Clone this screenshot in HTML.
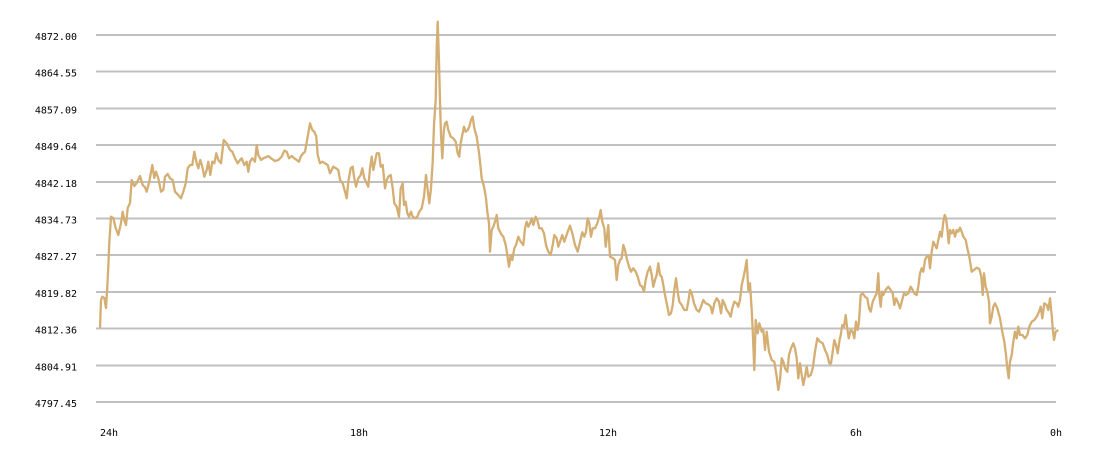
<!DOCTYPE html>
<html><head><meta charset="utf-8"><style>
html,body{margin:0;padding:0;background:#fff;}
svg{display:block;}
text{font-family:"DejaVu Sans Mono","Liberation Mono",monospace;font-size:10px;fill:#000;}
</style></head><body>
<svg width="1100" height="458" viewBox="0 0 1100 458" xmlns="http://www.w3.org/2000/svg">
<g stroke="#c0c0c0" stroke-width="2" shape-rendering="crispEdges">
<line x1="96" x2="1056" y1="35" y2="35"/>
<line x1="96" x2="1056" y1="71.7" y2="71.7"/>
<line x1="96" x2="1056" y1="108.4" y2="108.4"/>
<line x1="96" x2="1056" y1="145.1" y2="145.1"/>
<line x1="96" x2="1056" y1="181.8" y2="181.8"/>
<line x1="96" x2="1056" y1="218.5" y2="218.5"/>
<line x1="96" x2="1056" y1="255.2" y2="255.2"/>
<line x1="96" x2="1056" y1="291.9" y2="291.9"/>
<line x1="96" x2="1056" y1="328.6" y2="328.6"/>
<line x1="96" x2="1056" y1="365.3" y2="365.3"/>
<line x1="96" x2="1056" y1="402" y2="402"/>
</g>
<g text-anchor="end">
<text x="77" y="40">4872.00</text>
<text x="77" y="76.7">4864.55</text>
<text x="77" y="113.4">4857.09</text>
<text x="77" y="150.1">4849.64</text>
<text x="77" y="186.8">4842.18</text>
<text x="77" y="223.5">4834.73</text>
<text x="77" y="260.2">4827.27</text>
<text x="77" y="296.9">4819.82</text>
<text x="77" y="333.6">4812.36</text>
<text x="77" y="370.3">4804.91</text>
<text x="77" y="407">4797.45</text>
</g>
<text x="100" y="436">24h</text>
<text x="350" y="436">18h</text>
<text x="599" y="436">12h</text>
<text x="850" y="436">6h</text>
<text x="1050" y="436">0h</text>
<polyline fill="none" stroke="#d4ae72" stroke-width="2.3" stroke-linejoin="round" points="
100,328 101,300 102.3,296.7 104.3,298 106,308 107.3,286.7 108.3,266.7 109.3,243 111,216.7 113.3,218 115.7,228 118.3,235 121,223 122.7,211.7 124.3,220 126,225 127.7,208 130,203 131.7,180 134.3,186 136.7,183 140,176 142.7,185 145,187.3 146.7,191.7 149.3,181.7 152.3,165 154.3,178 156,171.7 158.3,178.3 161,191.7 163.3,190 165,176.7 167.7,174 170,178.3 172.7,180 175,191.7 178.3,195 181,198.3 183.3,191.7 185.7,183.3 187.7,168.3 190,165 192.3,165 194.3,151.7 196.7,163.3 198.3,168.3 200.3,160 202.3,166.7 204.3,176.7 206.7,170 208.3,161.7 210.3,175 212.3,161.7 214.3,163.3 216.3,153.3 218.3,160 221,163.3 223.7,140 226.7,143.3 230,150 232.3,151.7 235,158.3 237.7,163.3 240,160 241.7,158.3 244.3,165 246.7,161.7 248.3,171.7 250,161.7 252.3,158.3 255,161.7 256.7,145 258.3,155 261,160 263.3,158.3 265.7,157.3 268.3,156 271,158.3 275,161 278.3,160 281.7,156.7 284.3,150.7 286.7,151.7 289,158.3 291.7,156 294.3,158.3 296.7,160 299,161.7 301,156 303.3,153.3 305,151.7 307.7,136.7 310,123.3 312.3,130 314.3,131.7 316.3,136.7 317.7,155 320,163.3 322.3,161.7 325,163.3 327.7,165
330,173.3 333.3,166.7 336,168.3 338.3,170 340,180 342.7,183.3 345,191.7 346.7,198.3 348.3,181.7 350.7,168.3 352.7,166.7 354,176.7 356,186.7 358.3,178.3 360.7,175 362.3,168.3 364.3,178.3 366.7,183.3 368.3,186.7 370,168.3 371.7,156.7 373.3,170 375,161.7 376.7,153.3 379,153.3 380.7,166.7 382.7,165 385,188.3 386.7,180 388.3,176.7 390.7,175 392.7,188.3 394.3,203.3 396.7,206.7 399,216.7 400.7,188.3 402.7,183.3 404,205 405.7,201.7 407.3,213.3 409,216.7 411,211.7 412.7,216.7 415,218.3 417.3,216.7 419.3,211.7 421.7,208.3 424,196.7 426,175 427.7,190 429.3,203.3 431,188.3 432.7,161.7 434,125 435.7,100 436.7,48.3 437.7,21.7 439,61.7 440,101.7 441,135 442.3,158.3 443.7,131.7 445,123.3 446.7,121.7 448.3,130 450.7,136.7 453.3,138.3 455.7,141.7 457.7,153.3 459.3,156.7 460.7,143.3 462.3,135 464,126.7 465.7,131.7 467.7,130 469.3,126.7 471,120 472.7,116.7 474.3,128.3 476.7,136.7 479.3,155 481.7,178.3 484,186.7 486,198.3 487.3,211.7 489,223.3 490,251.7 491.7,230 493.3,226.7 495,221.7 496.7,215 498.3,228.3 500,231.7 501.7,235 503.3,236.7 505.7,245 507.3,255 509,266.7 510.7,255 512.3,260 514.3,248.3 516,245 518.3,236.7 520.7,241.7 523.3,245 525,228.3 526.7,221.7 528.3,226.7 530,223.3 531.7,218.3 533.3,225 535.7,216.7 537.3,220 539.3,228.3 541.7,228.3 544,233.3 546,245 548.3,251.7 550.7,255 552.7,245 554.3,235 556.7,238.3 558.3,246.7 560,241.7 562.3,235 564.3,241.7
567.7,231.7 570,225.7 572.3,233.3 575,245 577.7,251.7 580,241.7 582.3,232.3 584.3,236.7 586,231.7 587.7,218.3 589.3,223.3 591,236.7 592.7,228.3 595,228.3 597.3,223.3 599.3,216.7 600.7,210 602.3,221.7 604.3,228.3 605.7,246.7 607,236.7 608.3,225 610,256.7 612.3,257.7 615,260 616.7,280 618.3,265 620,260 621.7,258.3 623.3,245 625,250 626.7,258.3 629,266.7 631,271.7 633.3,268.3 635.7,271.7 637.7,276.7 640,285 642.3,286.7 644,291.7 645.7,280 647.7,271.7 650,266.7 651.7,275 653.3,286.7 655,280 656.7,275 658.3,263.3 660,275 661.7,276.7 663.3,285 665,295 666.7,303.3 669,315 671,313.3 672.7,305 674.3,290 676,278.3 677.7,291.7 679.3,301.7 681.7,305 684.3,310 686.7,310 688.3,301.7 690,290 691.7,293.3 694,303.3 696.7,310 699,311.7 701,306.7 703.3,300 705.7,303.3 708.3,304.3 710.7,306.7 712.3,313.3 714.3,303.3 716.7,298.3 719,301.7 721,313.3 722.7,300 724.3,303.3 726.7,310 729,313.3 730.7,316.7 732.3,308.3 734.3,301.7 736.7,303.3 738.3,306.7 740,300 741.7,285 743.3,278.3 745,270 746.7,260 748.3,290 750,283.3 751.7,310 752.7,330 754.3,370 755.7,320 757.7,333.3 759.3,323.3 761.7,331.7 763.3,330 765,350 766.7,331.7 769,351.7 771.7,360 774.3,361.7 776.7,376.7 778.3,390 780,380 781.7,358.3 783.3,361.7 785,368.3 787.3,371.7 789,355 791,348.3 793.3,343.3 795,348.3 796.7,358.3 798.3,378.3
800,363.3 801.7,375 803.3,385 805,376.7 806.7,366.7 808.3,376.7 810.7,375 812.7,368.3 815,351.7 817.3,338.3 820,341.7 822.7,343.3 825,350 827.3,355 829.3,363.3 831,363.3 832.7,351.7 834.3,340 836,345 837.7,353.3 839.3,341.7 840.7,335 842.3,325 844,326.7 845.7,315 847,326.7 848.7,338.3 850.7,330 852.7,331.7 854.3,338.3 856,321.7 857.7,330 859,321.7 860.7,295 862.7,293.3 865,296.7 867.3,298.3 869,308.3 870.7,311.7 872.7,301.7 875,296.7 876.7,293.3 878.3,273.3 879.3,295 880.7,306.7 882,291.7 883.3,295 885.7,290 888.3,286.7 890.7,290 892.7,293.3 894.3,305 896,298.3 897.7,301.7 900,308.3 901.7,301.7 904,293.3 906,295 908.3,293.3 910.7,286.7 912.7,290 914.3,293.3 916.7,295 918.3,286.7 920,273.3 921.7,268.3 923.3,271.7 925,260 926.7,256.7 928.7,255.7 930,268.3 931.7,251.7 933.3,241.7 935,245 936.7,248.3 938.3,240 940,231.7 941.7,236.7 943.3,221.7 944.7,215 946,218.3 947.3,228.3 948.7,243.3 950,230 951.7,233.3 953.3,230 955,236.7 956.7,230 958.3,231.7 960,227.7 961.7,231.7 963.3,236.7 965.7,240 967.7,250 969.3,256.7 971.7,271.7 974,270 976.7,267.7 979.3,269 981.3,276.7 982.7,295 984,273.3 985.7,286.7 987.3,291.7 989,301.7 990,323.3 991.7,316.7 993.3,306.7 995,303.3 997.3,308.3 1000,318.3 1002.3,331.7 1004.3,341.7 1006,355 1007.3,368.3 1008.7,378.3 1010,361.7 1011.7,355 1013.3,341.7 1015,331.7 1016.7,338.3 1018.3,326.7 1020,335 1022.3,335 1025,338.3 1027.3,335 1029.3,326.7 1031.7,321.7 1034.3,320 1036.7,316.7 1039,311.7 1040.7,306.7 1042.3,318.3 1044.3,303.3 1046.7,305 1048.3,310 1050,298.3 1051.7,315 1052.7,328.3 1054,340 1055.7,331.7 1058.3,330"/>
</svg>
</body></html>
